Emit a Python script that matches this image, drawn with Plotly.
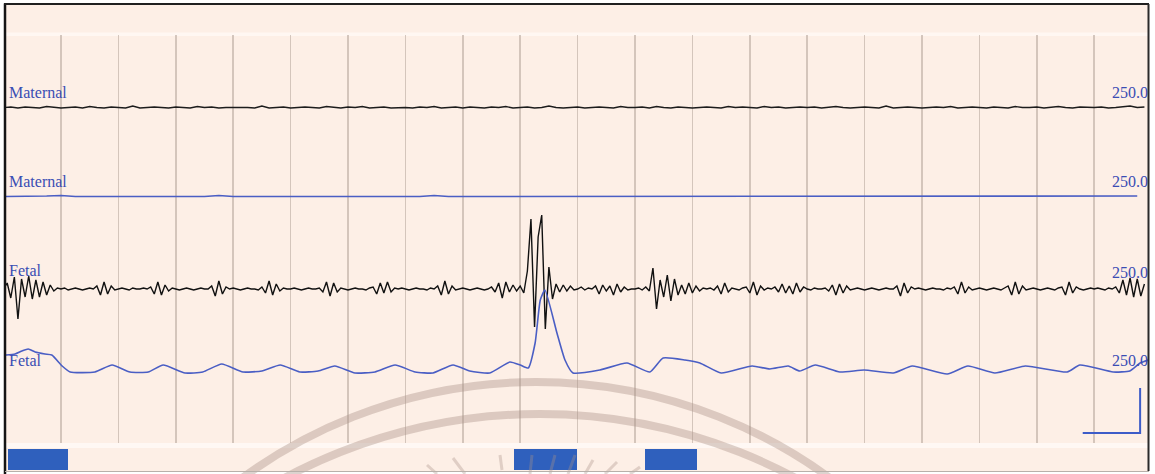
import numpy as np
import plotly.graph_objects as go

# ---------------- data ----------------
# Channel 1: maternal ECG (black), one value every 1/8 s
MATERNAL_ECG_DT = 1 / 8
MATERNAL_ECG = [
    0, 0.5, -0.5, 0.5, 0, -0.5, 1, 0,
    -0.5, 0, 0.5, -0.5, 1, 0, -0.5, 0.5,
    0, -0.5, 1.5, -0.5, 0, 0.5, 0, -0.5,
    0.5, 0, -0.5, 1, 0, 0.5, -0.5, 0,
    0, 0.5, 0, -0.5, 1.5, -0.5, 0, 0.5,
    -0.5, 0, 0.5, 0, -0.5, 1, 0, -0.5,
    0.5, 0, 1, -0.5, 0, 0.5, -0.5, 0,
    0, -0.5, 0.5, 0, 1, -0.5, 0, 0.5,
    -0.5, 0.5, 0, -0.5, 0.5, 0, 1, -0.5,
    0, 0.5, -0.5, 0, 1.5, 0, -0.5, 0,
    0.5, -0.5, 0, 0.5, 0, -0.5, 1, 0,
    0, 0.5, -0.5, 1, 0, -0.5, 0.5, 0,
    -0.5, 0, 0.5, 0, -0.5, 1, 0, 0.5,
    0, -0.5, 1, 0, 0.5, -0.5, 0, 0.5,
    0, 0.5, -0.5, 0, 1, 0, -0.5, 0,
    0.5, 0, -0.5, 1.5, -0.5, 0, 0.5, 0,
    -0.5, 0, 0.5, 0, 1, -0.5, 0, 0.5,
    0, -0.5, 0.5, 0, -0.5, 1, 0, 0,
    0.5, -0.5, 0, 1, 0, -0.5, 0.5, 0,
    0, 0.5, -0.5, 0, 1, 1.5, 0, 0.5,
]

# Channel 2: maternal (blue), one value every 1/4 s
MATERNAL_2_DT = 1 / 4
MATERNAL_2 = [
    0, 0, 0, 0.5, 1, 0, 0, 0, 0, 0, 0.5, 0.5, 0, 0, 0, 1,
    0, 0, 0, 0.5, 0.5, 0, 0, 0, 0, 0.5, 0, 0, 0, 0, 1, 0,
    0, 0, 0, 0.5, 0, 0, 0, 0, 0.5, 0, 0, 0, 0, 0, 0.5, 0,
    0, 0, 0, 0.5, 0, 0, 0, 0, 0.5, 0, 0, 0, 0, 0, 0.5, 0,
    0, 0, 0, 0, 0.5, 0, 0, 0, 0, 0.5, 0, 0, 0, 0, 0, 0.5,
]

# Channel 3: fetal ECG (black), one value every 1/16 s
FETAL_ECG_DT = 1 / 16
FETAL_ECG = [
    0, 6, -9, 12, -30, 10, -8, 13, -10, 9, -8, 7, -6, 4, -2, 1,
    0, 1, -1, 0, 1, 0, -1, 0, 1, 0, 3, -6, 7, -5, 3, -1,
    0, 1, 0, -1, 1, 0, 0, 1, 0, 2, -5, 7, -6, 4, -2, 1,
    0, -1, 0, 1, 0, -1, 0, 1, 0, 0, 3, -7, 8, -5, 2, 0,
    1, 0, -1, 0, 1, 0, 0, -1, 2, -4, 8, -6, 5, -2, 1, 0,
    0, 1, 0, -1, 0, 1, 0, 0, 1, -3, 7, -7, 6, -3, 1, 0,
    -1, 0, 1, 0, 0, -1, 1, 2, -5, 6, -4, 7, -3, 1, 0, 1,
    0, -1, 0, 1, 0, 0, -1, 1, 0, 3, -6, 8, -5, 3, -1, 0,
    1, 0, -1, 0, 1, 0, -1, 0, 2, -3, 6, -9, 7, -3, 4, -2,
    3, -4, 18, 70, -38, 52, 74, -40, 22, -10, 5, -3, 4, -2, 3, -1,
    0, 2, -1, 1, 0, 3, -5, 4, -2, 3, -6, 5, -3, 2, -1, 0,
    0, 1, -1, 2, -2, 21, -20, 9, -8, 14, -12, 10, -6, 4, -5, 6,
    -4, 3, -2, 1, 0, 1, -1, 3, -5, 6, -3, 1, 0, -1, 1, 2,
    -4, 7, -6, 3, -1, 1, 0, 2, -3, 5, -4, 3, -5, 6, -3, 2,
    0, -1, 1, 0, 0, 1, -2, 4, -6, 5, -4, 3, -1, 0, 1, 0,
    -1, 0, 1, 0, -1, 0, 1, 0, 0, 3, -7, 6, -4, 2, 0, 1,
    0, -1, 0, 1, 0, 0, -1, 1, 0, 2, -5, 7, -4, 2, -1, 0,
    1, 0, -1, 0, 1, 0, -1, 1, 3, -6, 7, -5, 3, -1, 0, 1,
    0, -1, 0, 1, 0, -1, 1, 2, -6, 7, -4, 2, 0, -1, 0, 1,
    0, 1, 0, -1, 1, 0, 2, -4, 9, -6, 11, -8, 10, -7, 5,
]

# Channel 4: fetal (blue) trace, times in seconds and values
FETAL_2_T = [
    0.04, 0.20, 0.32, 0.43, 0.55, 0.72, 0.84, 1.02, 1.16, 1.59, 1.89, 2.20,
    2.52, 2.78, 3.16, 3.47, 3.80, 4.17, 4.50, 4.82, 5.16, 5.48, 5.77, 6.12,
    6.47, 6.82, 7.17, 7.48, 7.83, 8.12, 8.47, 8.82, 9.00, 9.14, 9.26, 9.35,
    9.43, 9.64, 9.78, 9.92, 10.39, 10.86, 11.26, 11.49, 11.87, 12.13, 12.50,
    13.04, 13.35, 13.67, 13.87, 14.14, 14.57, 14.99, 15.50, 15.83, 16.44,
    16.80, 17.27, 17.80, 18.53, 18.75, 19.33, 19.62, 19.80, 19.94,
]
FETAL_2_V = [
    15, 16, 19, 21, 18, 16, 15, 4, -2, -2, 5, -2,
    -2, 5, -3, -2, 6, -2, -1, 5, -2, -1, 4, -3,
    -2, 5, -2, -3, 5, -1, -3, 8, 5, 2, 27, 70,
    80, 37, 10, -3, 0, 7, -2, 12, 10, 7, -3,
    4, 1, 4, -1, 5, -2, 0, -3, 4, -4,
    4, -3, 4, -2, 5, -2, -1, 7, 10,
]

CHANNEL_LABELS = ["Maternal", "Maternal", "Fetal", "Fetal"]
CHANNEL_SCALES = ["250.0", "250.0", "250.0", "250.0"]

# event markers along the bottom strip (seconds)
EVENT_START = [0.077, 8.89, 11.17]
EVENT_END = [1.12, 9.99, 12.08]

# calibration mark: 1 s by 45 units
CAL_SECONDS = 1.0
CAL_AMPL = 45
CAL_END_T = 19.80

# ---------------- layout constants ----------------
W, H = 1155, 474
ML, MR, MT, MB = 6, 7, 4, 3
PLOT_W = W - ML - MR
PLOT_H = H - MT - MB
BASELINES = [335.5, 246.5, 154, 73]
LABEL_Y = [350, 261, 173, 83]
SCALE_Y = [350, 261, 171, 83]

BG_GRID = "#fdeadf"
BG_BAND = "#fdefe6"
BLUE_LINE = "#4a5ec4"
BLUE_TEXT = "#3a4db4"
BAR_BLUE = "#2f60bd"


def px_x(px):
    return (px - ML) / PLOT_W


def px_y(py):
    return (H - MB - py) / PLOT_H


fig = go.Figure()

t1 = np.arange(len(MATERNAL_ECG)) * MATERNAL_ECG_DT
fig.add_trace(go.Scatter(x=t1, y=np.array(MATERNAL_ECG) + BASELINES[0], mode="lines",
                         line=dict(color="#1c1c1c", width=1.4), hoverinfo="skip"))
t2 = np.arange(len(MATERNAL_2)) * MATERNAL_2_DT
fig.add_trace(go.Scatter(x=t2, y=np.array(MATERNAL_2) + BASELINES[1], mode="lines",
                         line=dict(color=BLUE_LINE, width=1.6), hoverinfo="skip"))
t3 = np.arange(len(FETAL_ECG)) * FETAL_ECG_DT
fig.add_trace(go.Scatter(x=t3, y=np.array(FETAL_ECG) + BASELINES[2], mode="lines",
                         line=dict(color="#111111", width=1.4), hoverinfo="skip"))
fig.add_trace(go.Scatter(x=FETAL_2_T, y=np.array(FETAL_2_V) + BASELINES[3], mode="lines",
                         line=dict(color=BLUE_LINE, width=1.6, shape="spline", smoothing=0.5),
                         hoverinfo="skip"))

# calibration L
fig.add_trace(go.Scatter(x=[CAL_END_T - CAL_SECONDS, CAL_END_T, CAL_END_T],
                         y=[10, 10, 10 + CAL_AMPL], mode="lines",
                         line=dict(color="#3d5cc8", width=2), hoverinfo="skip"))

# event bars in the bottom strip
fig.add_trace(go.Bar(x=[e - s for s, e in zip(EVENT_START, EVENT_END)], base=EVENT_START,
                     y=[0] * len(EVENT_START), orientation="h", width=1,
                     marker=dict(color=BAR_BLUE, line=dict(width=0)),
                     xaxis="x2", yaxis="y2", hoverinfo="skip"))

x_lo = (ML - 3.6) / 57.4
x_hi = (W - MR - 3.6) / 57.4

fig.update_layout(
    width=W, height=H,
    margin=dict(l=ML, r=MR, t=MT, b=MB, pad=0),
    paper_bgcolor="white",
    plot_bgcolor=BG_GRID,
    showlegend=False,
    xaxis=dict(range=[x_lo, x_hi], domain=[0, 1], anchor="y", showgrid=True, dtick=1, tick0=0,
               gridcolor="rgba(185,168,158,0.6)", gridwidth=1.5, zeroline=False,
               showticklabels=False, ticks="", showline=False, fixedrange=True),
    yaxis=dict(range=[0, 408], domain=[px_y(443), px_y(35)], visible=False,
               showgrid=False, zeroline=False, fixedrange=True),
    xaxis2=dict(matches="x", domain=[0, 1], anchor="y2", visible=False, showgrid=False),
    yaxis2=dict(range=[-0.5, 0.5], domain=[px_y(470), px_y(449)], visible=False,
                showgrid=False, zeroline=False),
    bargap=0,
)

shapes = []
# inner background & bands
shapes.append(dict(type="rect", xref="paper", yref="paper", x0=0, x1=1, y0=0, y1=1,
                   fillcolor=BG_BAND, line=dict(width=0), layer="below"))
shapes.append(dict(type="rect", xref="paper", yref="paper", x0=0, x1=1,
                   y0=px_y(36), y1=px_y(32.5), fillcolor="#fff7f2", line=dict(width=0), layer="below"))
shapes.append(dict(type="rect", xref="paper", yref="paper", x0=0, x1=1,
                   y0=px_y(448), y1=px_y(443), fillcolor="#fff8f4", line=dict(width=0), layer="below"))

# faint watermark arcs and rays
WM = "rgba(170,145,135,0.40)"
for cx, cy, r in [(536, 879, 497), (540, 956, 542)]:
    shapes.append(dict(type="circle", xref="paper", yref="paper",
                       x0=px_x(cx - r), x1=px_x(cx + r), y0=px_y(cy + r), y1=px_y(cy - r),
                       line=dict(color=WM, width=8), fillcolor="rgba(0,0,0,0)", layer="above"))
for (ax, ay, bx, by) in [(427, 465, 437, 474), (453, 458, 465, 474), (500, 455, 502, 470),
                         (532, 455, 530, 474), (555, 455, 550, 474), (575, 455, 568, 474),
                         (593, 460, 585, 474), (617, 462, 605, 474), (640, 467, 630, 474)]:
    shapes.append(dict(type="line", xref="paper", yref="paper",
                       x0=px_x(ax), y0=px_y(ay), x1=px_x(bx), y1=px_y(by),
                       line=dict(color="rgba(170,145,135,0.35)", width=3), layer="above"))

# frame
shapes.append(dict(type="line", xref="paper", yref="paper", x0=px_x(5), x1=px_x(5),
                   y0=px_y(474), y1=px_y(3.5), line=dict(color="#151515", width=2.5), layer="above"))
shapes.append(dict(type="line", xref="paper", yref="paper", x0=px_x(4), x1=px_x(1149),
                   y0=px_y(4), y1=px_y(4), line=dict(color="#202020", width=2), layer="above"))
shapes.append(dict(type="line", xref="paper", yref="paper", x0=px_x(1148.5), x1=px_x(1148.5),
                   y0=px_y(471), y1=px_y(4), line=dict(color="#2a2a2a", width=2), layer="above"))
shapes.append(dict(type="line", xref="paper", yref="paper", x0=px_x(5), x1=px_x(1149),
                   y0=px_y(471.5), y1=px_y(471.5), line=dict(color="#b8b0aa", width=1), layer="above"))
fig.update_layout(shapes=shapes)

annotations = []
for lab, ly in zip(CHANNEL_LABELS, LABEL_Y):
    annotations.append(dict(text=lab, xref="paper", yref="y", x=0, y=ly, xanchor="left",
                            yanchor="middle", xshift=1, showarrow=False,
                            font=dict(family="Liberation Serif", size=16, color=BLUE_TEXT)))
for sc, sy in zip(CHANNEL_SCALES, SCALE_Y):
    annotations.append(dict(text=sc, xref="paper", yref="y", x=1, y=sy, xanchor="right",
                            yanchor="middle", xshift=2, showarrow=False,
                            font=dict(family="Liberation Serif", size=16, color=BLUE_TEXT)))
fig.update_layout(annotations=annotations)

fig.write_html(
    "out.html",
    config={"displayModeBar": False, "staticPlot": True},
    post_script="document.body.style.margin='0';document.body.style.overflow='hidden';",
)
